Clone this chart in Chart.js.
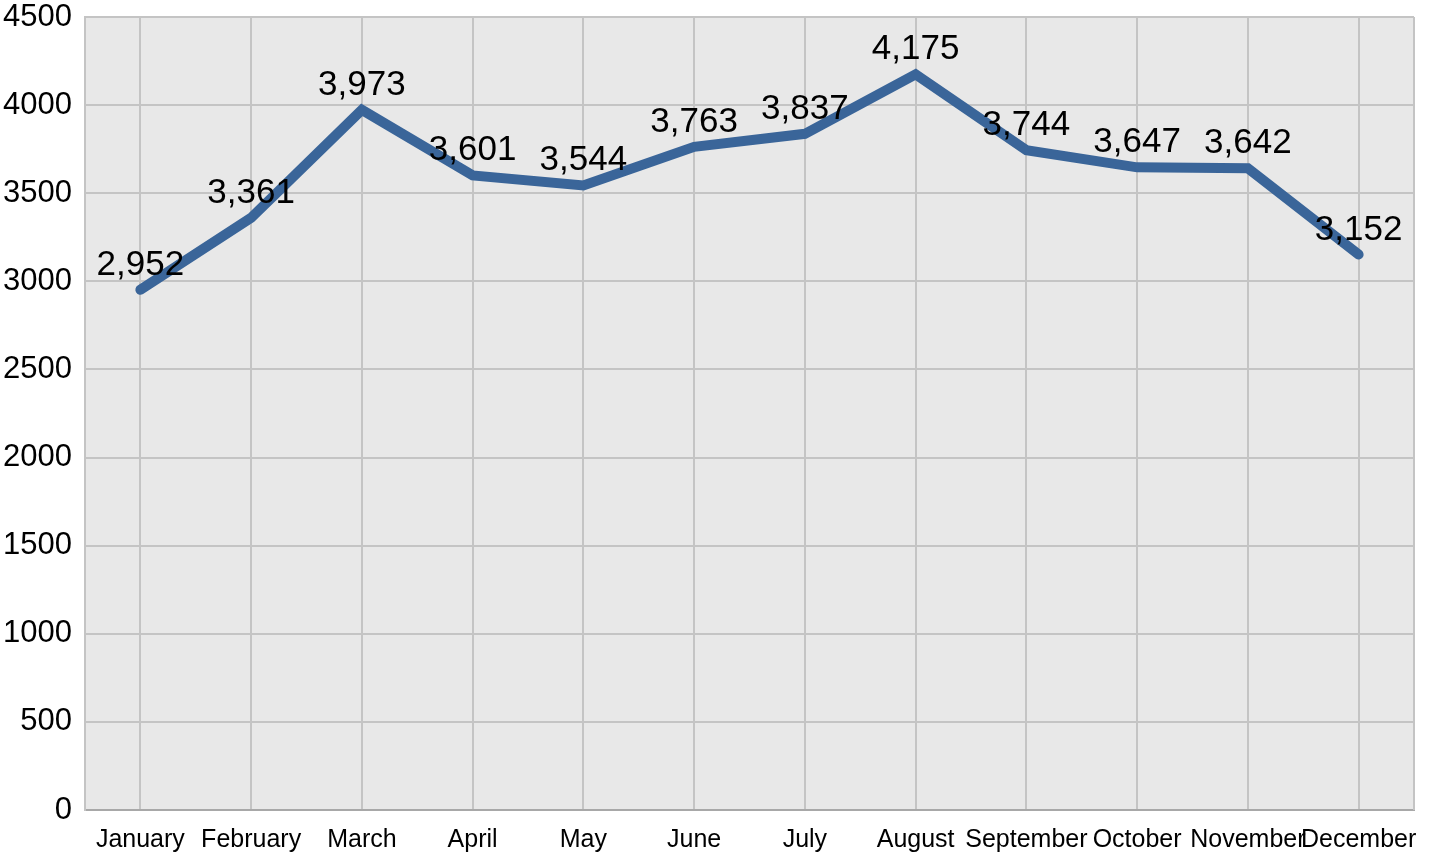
<!DOCTYPE html>
<html>
<head>
<meta charset="utf-8">
<script src="https://cdn.jsdelivr.net/npm/chart.js@4/dist/chart.umd.min.js"></script>
<style>
  html, body { margin: 0; padding: 0; background: #fff; }
  canvas { display: block; }
</style>
</head>
<body>
<canvas id="salesChart" width="1442" height="857"></canvas>
<script>
const months = ['January', 'February', 'March', 'April', 'May', 'June', 'July', 'August', 'September', 'October', 'November', 'December'];
const values = [2952, 3361, 3973, 3601, 3544, 3763, 3837, 4175, 3744, 3647, 3642, 3152];
const yTicks = [0, 500, 1000, 1500, 2000, 2500, 3000, 3500, 4000, 4500];

const plotBg = {
  id: 'plotBg',
  beforeDraw(chart) {
    const { ctx, chartArea: a } = chart;
    ctx.save();
    ctx.fillStyle = '#e8e8e8';
    ctx.fillRect(a.left, a.top, a.right - a.left, a.bottom - a.top);
    ctx.restore();
  },
  afterDraw(chart) {
    const { ctx, chartArea: a } = chart;
    ctx.save();
    ctx.strokeStyle = '#c4c4c4';
    ctx.lineWidth = 2;
    ctx.beginPath();
    ctx.moveTo(a.right, a.top);
    ctx.lineTo(a.right, a.bottom);
    ctx.stroke();
    ctx.restore();
  }
};

const pointLabels = {
  id: 'pointLabels',
  afterDatasetsDraw(chart) {
    const { ctx } = chart;
    const meta = chart.getDatasetMeta(0);
    ctx.save();
    ctx.font = '35px "Liberation Sans", Arial, sans-serif';
    ctx.fillStyle = '#000';
    ctx.textAlign = 'center';
    ctx.textBaseline = 'alphabetic';
    meta.data.forEach((pt, i) => {
      ctx.fillText(values[i].toLocaleString('en-US'), pt.x, pt.y - 15);
    });
    ctx.restore();
  }
};

new Chart(document.getElementById('salesChart'), {
  type: 'line',
  data: {
    labels: months,
    datasets: [{
      data: values,
      borderColor: '#3a6599',
      borderWidth: 10,
      borderCapStyle: 'round',
      tension: 0,
      pointRadius: 0,
      pointHoverRadius: 0,
      fill: false
    }]
  },
  options: {
    responsive: false,
    animation: false,
    layout: { padding: { top: 17, right: 28, left: 0, bottom: 0 } },
    plugins: { legend: { display: false }, tooltip: { enabled: false } },
    scales: {
      x: {
        offset: true,
        grid: { offset: false, color: '#c4c4c4', lineWidth: 2, drawTicks: false },
        border: { color: '#a8a8a8', width: 2 },
        ticks: {
          color: '#000', padding: 15, maxRotation: 0, autoSkip: false,
          font: { family: '"Liberation Sans", Arial, sans-serif', size: 25 }
        },
        afterFit(scale) {
          scale.height = 47;
          scale.paddingLeft = 0;
          scale.paddingRight = 0;
        }
      },
      y: {
        min: 0,
        max: 4500,
        afterBuildTicks(scale) { scale.ticks = yTicks.map(v => ({ value: v })); },
        grid: { color: '#c4c4c4', lineWidth: 2, drawTicks: false },
        border: { color: '#c4c4c4', width: 2 },
        ticks: {
          color: '#000', padding: 13,
          callback: v => String(v),
          font: { family: '"Liberation Sans", Arial, sans-serif', size: 31 }
        },
        afterFit(scale) {
          scale.width = 85;
          scale.paddingTop = 0;
          scale.paddingBottom = 0;
        }
      }
    }
  },
  plugins: [plotBg, pointLabels]
});
</script>
</body>
</html>
